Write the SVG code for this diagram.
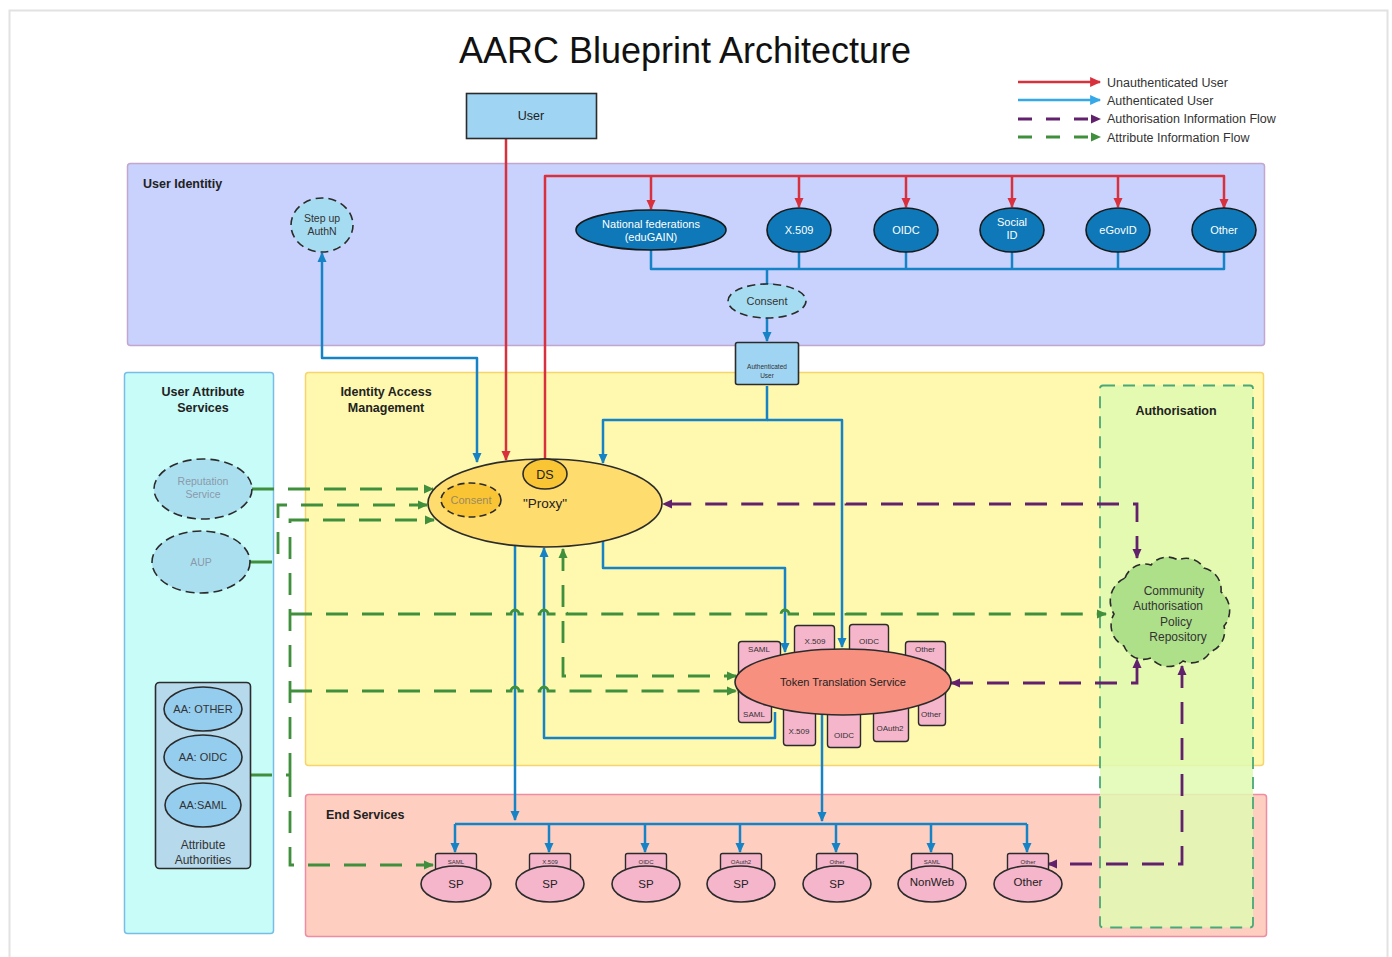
<svg xmlns="http://www.w3.org/2000/svg" width="1392" height="957" viewBox="0 0 1392 957">
<style>
text{font-family:"Liberation Sans",Arial,sans-serif;fill:#222}
.lbl{font-weight:bold;font-size:12.5px}
.c{text-anchor:middle}
.nd{stroke:#2b2b2b;stroke-width:1.6}
.idp{fill:#0e78b8;stroke:#1a1a1a;stroke-width:1.6}
.idpt{fill:#fff;font-size:11px;text-anchor:middle}
.tab{fill:#f5b5cb;stroke:#2b2b2b;stroke-width:1.4}
.tt{font-size:8px;text-anchor:middle;fill:#333}
.st{font-size:6px;text-anchor:middle;fill:#333}
.sp{fill:#f5b5cb;stroke:#2b2b2b;stroke-width:1.6}
.spt{font-size:11.5px;text-anchor:middle}
.red{fill:none;stroke:#d8303c;stroke-width:2.5;stroke-linejoin:round}
.blue{fill:none;stroke:#1583c5;stroke-width:2.5;stroke-linejoin:round}
.pur{fill:none;stroke:#62216d;stroke-width:2.8;stroke-dasharray:22 14}
.grn{fill:none;stroke:#3f8f3c;stroke-width:2.8;stroke-dasharray:22 14}
.leg{font-size:12.5px;fill:#333}
</style>
<defs>
<marker id="ar" viewBox="0 0 10 10" refX="9" refY="5" markerWidth="11" markerHeight="10" markerUnits="userSpaceOnUse" orient="auto-start-reverse"><path d="M0,0.5 L10,5 L0,9.5 z" fill="#d8303c"/></marker>
<marker id="ab" viewBox="0 0 10 10" refX="9" refY="5" markerWidth="11" markerHeight="10" markerUnits="userSpaceOnUse" orient="auto-start-reverse"><path d="M0,0.5 L10,5 L0,9.5 z" fill="#1583c5"/></marker>
<marker id="abl" viewBox="0 0 10 10" refX="9" refY="5" markerWidth="14" markerHeight="11" markerUnits="userSpaceOnUse" orient="auto"><path d="M0,0.5 L10,5 L0,9.5 z" fill="#35a8e8"/></marker>
<marker id="arl" viewBox="0 0 10 10" refX="9" refY="5" markerWidth="14" markerHeight="11" markerUnits="userSpaceOnUse" orient="auto"><path d="M0,0.5 L10,5 L0,9.5 z" fill="#d8303c"/></marker>
<marker id="ap" viewBox="0 0 10 10" refX="9" refY="5" markerWidth="11" markerHeight="10" markerUnits="userSpaceOnUse" orient="auto-start-reverse"><path d="M0,0.5 L10,5 L0,9.5 z" fill="#62216d"/></marker>
<marker id="ag" viewBox="0 0 10 10" refX="9" refY="5" markerWidth="11" markerHeight="10" markerUnits="userSpaceOnUse" orient="auto-start-reverse"><path d="M0,0.5 L10,5 L0,9.5 z" fill="#3f8f3c"/></marker>
</defs>
<rect x="0" y="0" width="1392" height="957" fill="#fff"/>
<rect x="9.5" y="10.5" width="1378" height="960" fill="none" stroke="#e2e2e2" stroke-width="2"/>
<text x="685" y="63" class="c" style="font-size:36px;fill:#111">AARC Blueprint Architecture</text>

<g id="legend">
<line x1="1018" y1="82" x2="1100" y2="82" stroke="#d8303c" stroke-width="2.5" marker-end="url(#arl)"/>
<line x1="1018" y1="100" x2="1100" y2="100" stroke="#35a8e8" stroke-width="2.5" marker-end="url(#abl)"/>
<line x1="1018" y1="119" x2="1100" y2="119" stroke="#62216d" stroke-width="2.8" stroke-dasharray="14 14" marker-end="url(#ap)"/>
<line x1="1018" y1="137" x2="1100" y2="137" stroke="#3f8f3c" stroke-width="2.8" stroke-dasharray="14 14" marker-end="url(#ag)"/>
<text x="1107" y="87" class="leg">Unauthenticated User</text>
<text x="1107" y="105" class="leg">Authenticated User</text>
<text x="1107" y="123" class="leg">Authorisation Information Flow</text>
<text x="1107" y="142" class="leg">Attribute Information Flow</text>
</g>

<g id="region-user-identity">
<rect x="127.5" y="163.5" width="1137" height="182" rx="3" fill="#c9d1fd" stroke="#c3a6cf" stroke-width="1.5"/>
<text x="143" y="188" class="lbl">User Identitiy</text>
</g>
<g id="region-user-attribute">
<rect x="124.5" y="372.5" width="149" height="561" rx="3" fill="#c8fcf8" stroke="#78bde8" stroke-width="1.5"/>
<text x="203" y="396" class="lbl c">User Attribute</text>
<text x="203" y="412" class="lbl c">Services</text>
</g>
<g id="region-iam">
<rect x="305.5" y="372.5" width="958" height="393" rx="3" fill="#fef9ae" stroke="#f8d46c" stroke-width="1.5"/>
<text x="386" y="396" class="lbl c">Identity Access</text>
<text x="386" y="412" class="lbl c">Management</text>
</g>
<g id="region-end-services">
<rect x="305.5" y="794.5" width="961" height="142" rx="3" fill="#fecfc1" stroke="#ef8ca1" stroke-width="1.5"/>
<text x="326" y="819" class="lbl">End Services</text>
</g>
<g id="region-authorisation">
<rect x="1100" y="385.5" width="153" height="542" rx="3" fill="#e0fab2" fill-opacity="0.85" stroke="#48a878" stroke-width="1.8" stroke-dasharray="12 8"/>
<text x="1176" y="415" class="lbl c">Authorisation</text>
</g>

<g id="connectors">
<path class="red" d="M506,139 V460" marker-end="url(#ar)"/>
<path class="red" d="M545,459 V176 H1224 V208" marker-end="url(#ar)"/>
<path class="red" d="M651,176 V209" marker-end="url(#ar)"/>
<path class="red" d="M799,176 V207" marker-end="url(#ar)"/>
<path class="red" d="M906,176 V207" marker-end="url(#ar)"/>
<path class="red" d="M1012,176 V207" marker-end="url(#ar)"/>
<path class="red" d="M1118,176 V207" marker-end="url(#ar)"/>
<path class="blue" d="M322,253 V358 H477 V462" marker-start="url(#ab)" marker-end="url(#ab)"/>
<path class="blue" d="M651,250 V269 H1224 V252 M799,252 V269 M906,252 V269 M1012,252 V269 M1118,252 V269 M767,269 V284"/>
<path class="blue" d="M760,285 H774"/>
<path class="blue" d="M767,318 V341" marker-end="url(#ab)"/>
<path class="blue" d="M767,386 V420 H603 V463" marker-end="url(#ab)"/>
<path class="blue" d="M767,420 H842 V647" marker-end="url(#ab)"/>
<path class="blue" d="M515,546 V820" marker-end="url(#ab)"/>
<path class="blue" d="M775,712 V738 H544 V548" marker-end="url(#ab)"/>
<path class="blue" d="M603,541 V568 H785 V652" marker-end="url(#ab)"/>
<path class="blue" d="M822,714 V821" marker-end="url(#ab)"/>
<path class="blue" d="M455,824 H1027"/>
<path class="blue" d="M455,824 V852" marker-end="url(#ab)"/>
<path class="blue" d="M549,824 V852" marker-end="url(#ab)"/>
<path class="blue" d="M645,824 V852" marker-end="url(#ab)"/>
<path class="blue" d="M740,824 V852" marker-end="url(#ab)"/>
<path class="blue" d="M836,824 V852" marker-end="url(#ab)"/>
<path class="blue" d="M931,824 V852" marker-end="url(#ab)"/>
<path class="blue" d="M1027,824 V852" marker-end="url(#ab)"/>
<path class="pur" d="M1137,558 V504 H846 A4,4 0 0 0 838,504 H663" marker-start="url(#ap)" marker-end="url(#ap)"/>
<path class="pur" d="M951,683 H1137 V659" marker-start="url(#ap)" marker-end="url(#ap)"/>
<path class="pur" d="M1182,666 V864 H1048" marker-start="url(#ap)" marker-end="url(#ap)"/>
<path class="grn" d="M252,489 H433" marker-end="url(#ag)"/>
<path class="grn" d="M250,562 H278 V505 H427" marker-end="url(#ag)"/>
<path class="grn" d="M250,775 H290"/>
<path class="grn" d="M290,775 V520 H434" marker-end="url(#ag)"/>
<path class="grn" d="M290,775 V865 H433" marker-end="url(#ag)"/>
<path class="grn" d="M290,614 H511 A4,4 0 0 1 519,614 H540 A4,4 0 0 1 548,614 H559 A4,4 0 0 1 567,614 H781 A4,4 0 0 1 789,614 H838 A4,4 0 0 1 846,614 H1106" marker-end="url(#ag)"/>
<path class="grn" d="M290,691 H511 A4,4 0 0 1 519,691 H540 A4,4 0 0 1 548,691 H736" marker-end="url(#ag)"/>
<path class="grn" d="M563,549 V676 H736" marker-start="url(#ag)" marker-end="url(#ag)"/>
</g>

<g id="node-user">
<rect x="466.5" y="93.5" width="130" height="45" fill="#9fd5f3" class="nd"/>
<text x="531" y="120" class="c" style="font-size:12.5px">User</text>
</g>
<g id="node-stepup">
<ellipse cx="322" cy="225" rx="31" ry="27" fill="#a6dcf2" class="nd" stroke-dasharray="8 5"/>
<text x="322" y="222" class="c" style="font-size:10.5px;fill:#333">Step up</text>
<text x="322" y="235" class="c" style="font-size:10.5px;fill:#333">AuthN</text>
</g>
<g id="node-edugain">
<ellipse cx="651" cy="230" rx="75" ry="20" class="idp"/>
<text x="651" y="228" class="idpt">National federations</text>
<text x="651" y="241" class="idpt">(eduGAIN)</text>
</g>
<g id="node-x509"><ellipse cx="799" cy="230" rx="32" ry="22" class="idp"/><text x="799" y="234" class="idpt">X.509</text></g>
<g id="node-oidc"><ellipse cx="906" cy="230" rx="32" ry="22" class="idp"/><text x="906" y="234" class="idpt">OIDC</text></g>
<g id="node-social"><ellipse cx="1012" cy="230" rx="32" ry="22" class="idp"/><text x="1012" y="226" class="idpt">Social</text><text x="1012" y="239" class="idpt">ID</text></g>
<g id="node-egovid"><ellipse cx="1118" cy="230" rx="32" ry="22" class="idp"/><text x="1118" y="234" class="idpt">eGovID</text></g>
<g id="node-other-idp"><ellipse cx="1224" cy="230" rx="32" ry="22" class="idp"/><text x="1224" y="234" class="idpt">Other</text></g>
<g id="node-consent-top">
<ellipse cx="767" cy="301" rx="39" ry="17" fill="#a6dcf2" class="nd" stroke-dasharray="8 5"/>
<text x="767" y="305" class="c" style="font-size:11px;fill:#333">Consent</text>
</g>
<g id="node-auth-user">
<rect x="735.5" y="342.5" width="63" height="42" rx="2" fill="#9fd5f3" class="nd"/>
<text x="767" y="369" class="c" style="font-size:6.5px;fill:#333">Authenticated</text>
<text x="767" y="378" class="c" style="font-size:6.5px;fill:#333">User</text>
</g>

<g id="node-reputation">
<ellipse cx="203" cy="489" rx="49" ry="30" fill="#aadff0" class="nd" stroke-dasharray="9 5"/>
<text x="203" y="485" class="c" style="font-size:10.5px;fill:#8a9aa8">Reputation</text>
<text x="203" y="498" class="c" style="font-size:10.5px;fill:#8a9aa8">Service</text>
</g>
<g id="node-aup">
<ellipse cx="201" cy="562" rx="49" ry="31" fill="#aadff0" class="nd" stroke-dasharray="9 5"/>
<text x="201" y="566" class="c" style="font-size:10.5px;fill:#8a9aa8">AUP</text>
</g>
<g id="node-attribute-authorities">
<rect x="155.5" y="682.5" width="95" height="186" rx="4" fill="#b6d9ec" class="nd"/>
<ellipse cx="203" cy="709" rx="39" ry="22" fill="#95cdef" class="nd"/>
<text x="203" y="713" class="c" style="font-size:11px;fill:#333">AA: OTHER</text>
<ellipse cx="203" cy="757" rx="39" ry="22" fill="#95cdef" class="nd"/>
<text x="203" y="761" class="c" style="font-size:11px;fill:#333">AA: OIDC</text>
<ellipse cx="203" cy="805" rx="38" ry="22" fill="#95cdef" class="nd"/>
<text x="203" y="809" class="c" style="font-size:11px;fill:#333">AA:SAML</text>
<text x="203" y="849" class="c" style="font-size:12px;fill:#333">Attribute</text>
<text x="203" y="864" class="c" style="font-size:12px;fill:#333">Authorities</text>
</g>

<g id="node-proxy">
<ellipse cx="545" cy="503" rx="117" ry="44" fill="#fedc6d" class="nd"/>
<ellipse cx="545" cy="474" rx="22" ry="15" fill="#fac534" class="nd"/>
<text x="545" y="479" class="c" style="font-size:12.5px">DS</text>
<ellipse cx="471" cy="500" rx="30" ry="17" fill="#fac534" class="nd" stroke-dasharray="7 4"/>
<text x="471" y="504" class="c" style="font-size:11px;fill:#9a8a60">Consent</text>
<text x="545" y="508" class="c" style="font-size:13.5px">"Proxy"</text>
</g>

<g id="node-tts">
<rect x="738.5" y="641.5" width="42" height="55" rx="3" class="tab"/>
<rect x="738.5" y="680.5" width="33" height="42" rx="3" class="tab"/>
<rect x="905.5" y="641.5" width="40" height="55" rx="3" class="tab"/>
<rect x="918.5" y="680.5" width="27" height="45" rx="3" class="tab"/>
<rect x="794.5" y="625.5" width="40" height="40" rx="3" class="tab"/>
<rect x="849.5" y="624.5" width="39" height="40" rx="3" class="tab"/>
<rect x="783.5" y="700.5" width="32" height="45" rx="3" class="tab"/>
<rect x="827.5" y="700.5" width="33" height="47" rx="3" class="tab"/>
<rect x="873.5" y="700.5" width="35" height="41" rx="3" class="tab"/>
<text x="759" y="652" class="tt">SAML</text>
<text x="754" y="717" class="tt">SAML</text>
<text x="815" y="644" class="tt">X.509</text>
<text x="869" y="644" class="tt">OIDC</text>
<text x="925" y="652" class="tt">Other</text>
<text x="931" y="717" class="tt">Other</text>
<text x="799" y="734" class="tt">X.509</text>
<text x="844" y="738" class="tt">OIDC</text>
<text x="890" y="731" class="tt">OAuth2</text>
<ellipse cx="843" cy="682" rx="108" ry="33" fill="#f8907f" class="nd"/>
<text x="843" y="686" class="c" style="font-size:11px">Token Translation Service</text>
</g>

<g id="node-community-repo">
<path d="M1125,578 A21,21 0 0 1 1151,565 A21,21 0 0 1 1178,560 A21,21 0 0 1 1204,568 A22,22 0 0 1 1221,592 A24,24 0 0 1 1224,626 A22,22 0 0 1 1210,652 A21,21 0 0 1 1183,661 A22,22 0 0 1 1151,658 A21,21 0 0 1 1124,646 A23,23 0 0 1 1114,614 A25,25 0 0 1 1125,578 Z" fill="#aee08a" class="nd" stroke-dasharray="8 5"/>
<text x="1174" y="595" class="c" style="font-size:12px;fill:#333">Community</text>
<text x="1168" y="610" class="c" style="font-size:12px;fill:#333">Authorisation</text>
<text x="1176" y="626" class="c" style="font-size:12px;fill:#333">Policy</text>
<text x="1178" y="641" class="c" style="font-size:12px;fill:#333">Repository</text>
</g>

<g id="node-sp-saml"><rect x="435.5" y="853.5" width="41" height="18" rx="2" class="tab"/><text x="456" y="864" class="st">SAML</text><ellipse cx="456" cy="884" rx="35" ry="18" class="sp"/><text x="456" y="888" class="spt">SP</text></g>
<g id="node-sp-x509"><rect x="529.5" y="853.5" width="41" height="18" rx="2" class="tab"/><text x="550" y="864" class="st">X.509</text><ellipse cx="550" cy="884" rx="34" ry="18" class="sp"/><text x="550" y="888" class="spt">SP</text></g>
<g id="node-sp-oidc"><rect x="625.5" y="853.5" width="41" height="18" rx="2" class="tab"/><text x="646" y="864" class="st">OIDC</text><ellipse cx="646" cy="884" rx="34" ry="18" class="sp"/><text x="646" y="888" class="spt">SP</text></g>
<g id="node-sp-oauth2"><rect x="720.5" y="853.5" width="41" height="18" rx="2" class="tab"/><text x="741" y="864" class="st">OAuth2</text><ellipse cx="741" cy="884" rx="34" ry="18" class="sp"/><text x="741" y="888" class="spt">SP</text></g>
<g id="node-sp-other"><rect x="816.5" y="853.5" width="41" height="18" rx="2" class="tab"/><text x="837" y="864" class="st">Other</text><ellipse cx="837" cy="884" rx="34" ry="18" class="sp"/><text x="837" y="888" class="spt">SP</text></g>
<g id="node-nonweb"><rect x="911.5" y="853.5" width="41" height="18" rx="2" class="tab"/><text x="932" y="864" class="st">SAML</text><ellipse cx="932" cy="884" rx="34" ry="18" class="sp"/><text x="932" y="886" class="spt">NonWeb</text></g>
<g id="node-other-service"><rect x="1007.5" y="853.5" width="41" height="18" rx="2" class="tab"/><text x="1028" y="864" class="st">Other</text><ellipse cx="1028" cy="884" rx="34" ry="18" class="sp"/><text x="1028" y="886" class="spt">Other</text></g>
</svg>
